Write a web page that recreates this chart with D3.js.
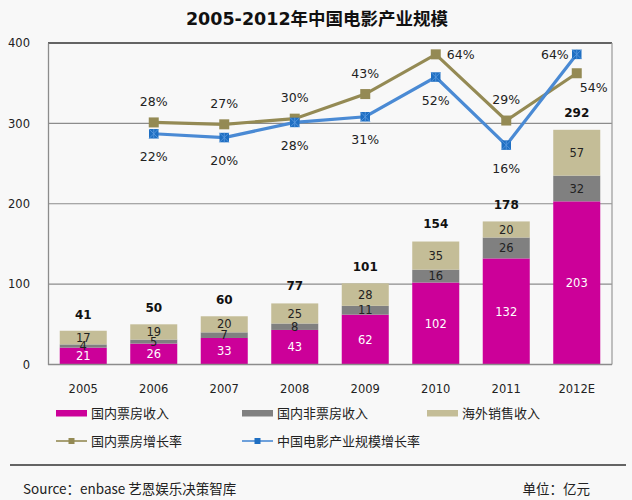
<!DOCTYPE html>
<html><head><meta charset="utf-8">
<script src="https://cdn.jsdelivr.net/npm/d3@7/dist/d3.min.js"></script>
<style>
html,body{margin:0;padding:0;background:#f8f8f8;}
svg{display:block;}
text{font-family:"DejaVu Sans","Noto Sans CJK SC",sans-serif;}
.cjk{font-family:"Noto Sans CJK SC","DejaVu Sans",sans-serif;}
</style></head>
<body><svg id="c" width="632" height="500"></svg>
<script>
const years = ["2005","2006","2007","2008","2009","2010","2011","2012E"];
const boxOffice = [21,26,33,43,62,102,132,203];
const nonBoxOffice = [4,5,7,8,11,16,26,32];
const overseas = [17,19,20,25,28,35,20,57];
const totals = [41,50,60,77,101,154,178,292];
const boxOfficeGrowth = [null,28,27,30,43,64,29,54];
const industryGrowth = [null,22,20,28,31,52,16,64];
const boxGrowthLabelPos = [null,"top","top","top","top","right","top","rightbottom"];
const indGrowthLabelPos = [null,"bottom","bottom","bottom","bottom","bottom","bottom","left"];
const yTicks = [0,100,200,300,400];
const seriesNames = ["国内票房收入","国内非票房收入","海外销售收入"];
const lineNames = ["国内票房增长率","中国电影产业规模增长率"];
const title = "2005-2012年中国电影产业规模";
const source = "Source：enbase 艺恩娱乐决策智库";
const unit = "单位：亿元";

(function(){
const colors = ["#cc0099","#808080","#c4bd97"];
const labelColors = ["#ffffff","#222222","#222222"];
const olive = "#948a54", blueLine = "#4a8ad4", blueMark = "#1f6fc2";

const svg = d3.select("#c");
const pL = 48, pR = 612, pT = 43, pB = 364.5;

const x = d3.scaleBand().domain(years).range([pL,pR]).paddingInner(0.333).paddingOuter(0.1665);
const y = d3.scaleLinear().domain([0,400]).range([pB,pT]);
const y2 = d3.scaleLinear().domain([-100,70]).range([pB,pT]);

svg.append("text").attr("x",317).attr("y",25).attr("text-anchor","middle")
  .attr("font-size",17.5).attr("font-weight","bold").attr("fill","#111").text(title);

const g = svg.append("g");
g.selectAll("line.grid").data(yTicks.filter(d=>d>0 && d<400)).join("line")
  .attr("x1",pL).attr("x2",pR).attr("y1",d=>y(d)).attr("y2",d=>y(d))
  .attr("stroke","#8c8c8c").attr("stroke-width",1.2);
g.append("line").attr("x1",pL).attr("x2",pR).attr("y1",y(400)).attr("y2",y(400)).attr("stroke","#333").attr("stroke-width",1.3);
g.append("line").attr("x1",pR).attr("x2",pR).attr("y1",y(400)).attr("y2",y(0)).attr("stroke","#999").attr("stroke-width",1.2);

const yAxis = d3.axisLeft(y).tickValues(yTicks).tickSize(0).tickPadding(18);
const ya = svg.append("g").attr("transform",`translate(${pL},0)`).call(yAxis);
ya.select(".domain").attr("stroke","#8c8c8c").attr("stroke-width",1.3);
ya.selectAll("text").attr("font-size",11.5).attr("fill","#222").attr("font-family","DejaVu Sans");

const stackData = years.map((yr,i)=>({year:yr, s0:boxOffice[i], s1:nonBoxOffice[i], s2:overseas[i]}));
const stack = d3.stack().keys(["s0","s1","s2"])(stackData);
const layers = svg.append("g").selectAll("g").data(stack).join("g").attr("fill",(d,i)=>colors[i]);
layers.selectAll("rect").data(d=>d).join("rect")
  .attr("x",d=>x(d.data.year)).attr("width",x.bandwidth())
  .attr("y",d=>y(d[1])).attr("height",d=>y(d[0])-y(d[1]));

svg.append("line").attr("x1",pL).attr("x2",pR).attr("y1",y(0)).attr("y2",y(0)).attr("stroke","#8c8c8c").attr("stroke-width",1.3);

stack.forEach((layer,li)=>{
  svg.append("g").selectAll("text").data(layer).join("text")
    .attr("x",d=>x(d.data.year)+x.bandwidth()/2)
    .attr("y",d=>(y(d[0])+y(d[1]))/2).attr("dy","0.36em")
    .attr("text-anchor","middle").attr("font-size",11.5)
    .attr("fill",labelColors[li]).text(d=>d[1]-d[0]);
});

svg.append("g").selectAll("text").data(totals).join("text")
  .attr("x",(d,i)=>x(years[i])+x.bandwidth()/2)
  .attr("y",(d,i)=>y(d)-17).attr("dy","0.36em")
  .attr("text-anchor","middle").attr("font-size",12).attr("font-weight","bold")
  .attr("fill","#111").text(d=>d);

const xAxis = d3.axisBottom(x).tickSize(0).tickPadding(20);
const xa = svg.append("g").attr("transform",`translate(0,${pB})`).call(xAxis);
xa.select(".domain").remove();
xa.selectAll("text").attr("font-size",11.5).attr("fill","#222").attr("font-family","DejaVu Sans");

function drawLine(vals, color, markColor, size, cross){
  const pts = vals.map((v,i)=>({v,i})).filter(d=>d.v!==null);
  const line = d3.line().x(d=>x(years[d.i])+x.bandwidth()/2).y(d=>y2(d.v));
  svg.append("path").datum(pts).attr("d",line).attr("fill","none")
    .attr("stroke",color).attr("stroke-width",3.2).attr("stroke-linejoin","miter");
  const m = svg.append("g").selectAll("g").data(pts).join("g")
    .attr("transform",d=>`translate(${x(years[d.i])+x.bandwidth()/2},${y2(d.v)})`);
  m.append("rect").attr("x",-size/2).attr("y",-size/2).attr("width",size).attr("height",size).attr("fill",markColor);
  if(cross){
    m.append("path").attr("d",`M${-size/2},${-size/2}L${size/2},${size/2}M${size/2},${-size/2}L${-size/2},${size/2}M0,${-size/2}V${size/2}`)
      .attr("stroke","#5d9be0").attr("stroke-width",0.8);
  }
  return pts;
}
function drawLabels(pts, pos){
  svg.append("g").selectAll("text").data(pts).join("text")
    .attr("font-size",12.5).attr("fill","#222")
    .attr("x",d=>{const cx=x(years[d.i])+x.bandwidth()/2; const p=pos[d.i];
      return p==="right"?cx+11:p==="rightbottom"?cx+3:p==="left"?cx-8:cx;})
    .attr("y",d=>{const cy=y2(d.v); const p=pos[d.i];
      return p==="top"?cy-21:p==="bottom"?cy+23:p==="rightbottom"?cy+14:cy;})
    .attr("dy","0.36em")
    .attr("text-anchor",d=>{const p=pos[d.i]; return p==="right"||p==="rightbottom"?"start":p==="left"?"end":"middle";})
    .text(d=>d.v+"%");
}
const p1 = drawLine(boxOfficeGrowth, olive, olive, 10, false);
const p2 = drawLine(industryGrowth, blueLine, blueMark, 9.5, true);
drawLabels(p1, boxGrowthLabelPos);
drawLabels(p2, indGrowthLabelPos);

const leg = svg.append("g");
const legX = [56,242,427];
seriesNames.forEach((n,i)=>{
  leg.append("rect").attr("x",legX[i]).attr("y",410).attr("width",31).attr("height",6.5).attr("fill",colors[i]);
  leg.append("text").attr("class","cjk").attr("x",legX[i]+35).attr("y",413).attr("dy","0.36em")
    .attr("font-size",13).attr("fill","#222").text(n);
});
const lineCols = [[olive,olive],[blueLine,blueMark]];
lineNames.forEach((n,i)=>{
  const lx = legX[i];
  leg.append("line").attr("x1",lx).attr("x2",lx+31).attr("y1",441).attr("y2",441).attr("stroke",lineCols[i][0]).attr("stroke-width",1.6);
  leg.append("rect").attr("x",lx+12.5).attr("y",438).attr("width",6).attr("height",6).attr("fill",lineCols[i][1]);
  leg.append("text").attr("class","cjk").attr("x",lx+35).attr("y",441).attr("dy","0.36em")
    .attr("font-size",13).attr("fill","#222").text(n);
});

svg.append("line").attr("x1",10).attr("x2",626).attr("y1",465).attr("y2",465).attr("stroke","#333").attr("stroke-width",1.5);
svg.append("text").attr("class","cjk").attr("x",23).attr("y",489).attr("dy","0.36em").attr("font-size",13.5).attr("fill","#222").text(source);
svg.append("text").attr("class","cjk").attr("x",590).attr("y",489).attr("dy","0.36em").attr("text-anchor","end").attr("font-size",13.5).attr("fill","#222").text(unit);
})();
</script></body></html>
